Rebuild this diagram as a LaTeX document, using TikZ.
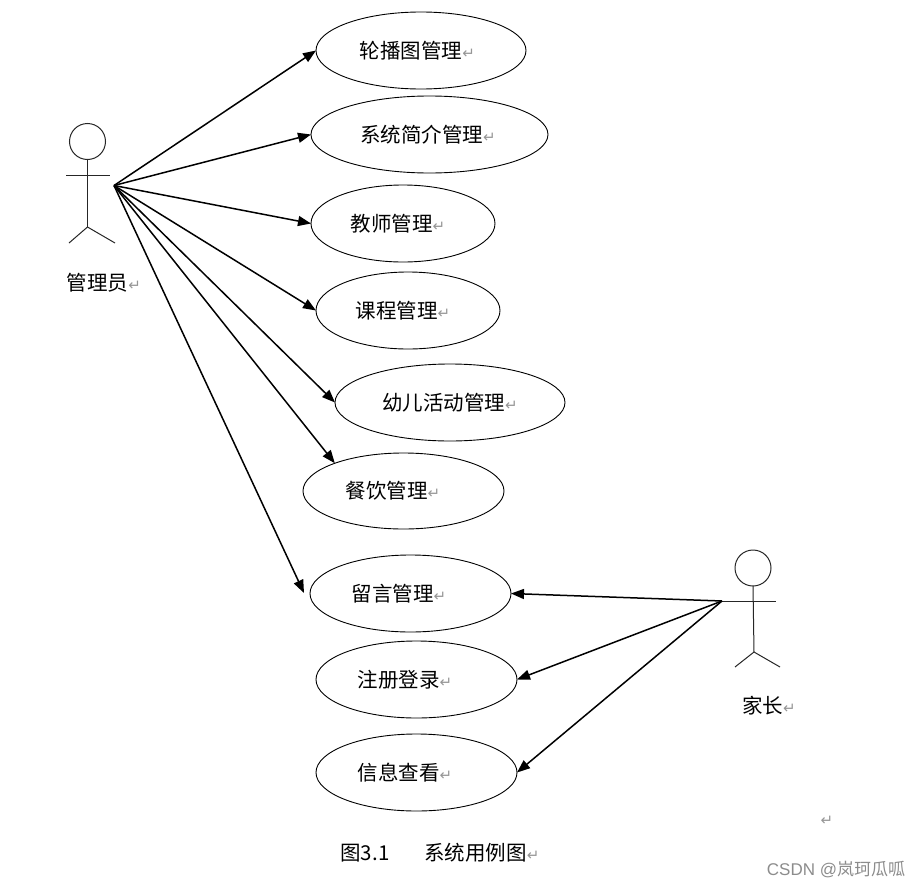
\documentclass[tikz,border=0pt]{standalone}
\usepackage{fontspec}
\setmainfont{Noto Sans CJK SC}[BoldFont={Noto Sans CJK SC}]
\newfontfamily\retfont{DejaVu Sans}
\newfontfamily\wmfont{Liberation Sans}
\usetikzlibrary{shapes.geometric,arrows.meta}
\definecolor{retgray}{RGB}{150,150,150}
\newcommand{\ret}{{\retfont\fontsize{15}{15}\selectfont\textcolor{retgray}{↵}}}
\newcommand{\uctext}[3]{\kern#1pt\raisebox{#2pt}{\mbox{#3\ret}}}
\tikzset{
  usecase/.style={draw=black,ellipse,line width=0.9pt,inner sep=0pt,outer sep=0pt,font=\fontsize{20.5}{22}\selectfont},
  txt/.style={inner sep=0pt,outer sep=0pt,font=\fontsize{20.5}{22}\selectfont},
  actorline/.style={draw=black!85,line width=1pt},
  head/.style={draw=black!85,circle,line width=1pt,minimum size=36pt,inner sep=0pt,outer sep=0pt},
  link/.style={draw=black,line width=1.5pt,-{Triangle[length=13pt,width=10pt]},shorten <=0pt},
}
\begin{document}
\begin{tikzpicture}[x=1pt,y=-1pt]
\useasboundingbox (0,0) rectangle (919,889);
% use cases
\node[usecase,minimum width=210pt,minimum height=77pt] (e1) at (421,50.5) {\uctext{-7}{-2.5}{轮播图管理}};
\node[usecase,minimum width=237pt,minimum height=77pt] (e2) at (429.5,134.5) {\uctext{-3}{-2.5}{系统简介管理}};
\node[usecase,minimum width=184pt,minimum height=77pt] (e3) at (403,223.5) {\uctext{-10}{-2.5}{教师管理}};
\node[usecase,minimum width=184pt,minimum height=77pt] (e4) at (408,310.5) {\uctext{-10}{-1.5}{课程管理}};
\node[usecase,minimum width=230pt,minimum height=77pt] (e5) at (450,402.5) {\uctext{0}{-1.5}{幼儿活动管理}};
\node[usecase,minimum width=201pt,minimum height=76pt] (e6) at (403.5,491) {\uctext{-21}{-1}{餐饮管理}};
\node[usecase,minimum width=201pt,minimum height=77pt] (e7) at (410.5,593.5) {\uctext{-23}{-2.5}{留言管理}};
\node[usecase,minimum width=201pt,minimum height=77pt] (e8) at (416.5,679.5) {\uctext{-23}{-1.5}{注册登录}};
\node[usecase,minimum width=201pt,minimum height=77pt] (e9) at (416.5,772.5) {\uctext{-23}{-1.5}{信息查看}};
% actor 1
\node[head] (h1) at (87.5,141.5) {};
\coordinate (h1hip) at (87.5,227);
\coordinate (h1al) at (66,175);
\coordinate (h1ar) at (110,175);
\coordinate (h1fl) at (69,243);
\coordinate (h1fr) at (115,243);
\coordinate (src1) at (114,185.5);
\draw[actorline] (h1.south) -- (h1hip);
\draw[actorline] (h1al) -- (h1ar);
\draw[actorline] (h1fl) -- (h1hip) -- (h1fr);
\node[txt] (l1) at (104,283) {管理员\ret};
% actor 2
\node[head] (h2) at (753,568) {};
\coordinate (h2hip) at (754,652);
\coordinate (h2al) at (722,601);
\coordinate (h2ar) at (776,601);
\coordinate (h2fl) at (735,667);
\coordinate (h2fr) at (780,667);
\draw[actorline] (h2.south) -- (h2hip);
\draw[actorline] (h2al) -- (h2ar);
\draw[actorline] (h2fl) -- (h2hip) -- (h2fr);
\node[txt] (l2) at (769,706) {家长\ret};
% connectors
\draw[link] (src1) -- (e1.west);
\draw[link] (src1) -- (e2.west);
\draw[link] (src1) -- (e3.west);
\draw[link] (src1) -- (e4.west);
\draw[link] (src1) -- (e5.west);
\draw[link] (src1) -- (e6.158);
\coordinate (e7in) at (304,593);
\draw[link] (src1) -- (e7in);
\draw[link] (h2al) -- (e7.east);
\draw[link] (h2al) -- (e8.east);
\draw[link] (h2al) -- (e9.east);
% caption and stray marks
\node[txt] (cap) at (440,853) {图3.1\hspace{35pt}系统用例图\ret};
\node[txt] (stray) at (827,821) {\ret};
\node[inner sep=0pt,text=black!45,font=\fontsize{17}{18}\selectfont] (wm) at (836,870) {{\wmfont CSDN @}岚珂瓜呱};
\end{tikzpicture}
\end{document}
